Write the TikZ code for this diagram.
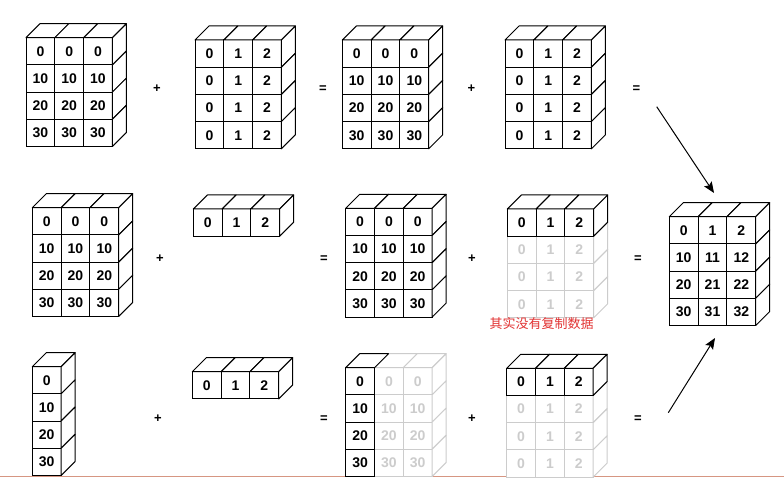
\documentclass[tikz,border=0pt]{standalone}
\usepackage{fontspec}
\setmainfont{Liberation Sans}
\newfontfamily\cjk{Noto Sans CJK SC}
\usetikzlibrary{arrows.meta}
\definecolor{faint}{gray}{0.8}
\definecolor{rulecol}{RGB}{214,150,130}
\definecolor{notecol}{RGB}{226,50,50}
\pgfkeys{/blk/.is family, /blk/.cd,
  name/.store in=\bName, left/.store in=\bX, top/.store in=\bY,
  cols/.store in=\bCols, clr/.store in=\bCol, topface/.store in=\bTop,
  sideface/.store in=\bSide, cw/.store in=\bCw, ch/.store in=\bCh,
  depth/.store in=\bD}
\newcommand\drawblock[2]{%
  \begingroup
  \pgfkeys{/blk/.cd, name=b, cw=28.8, ch=27.2, depth=14, clr=black,
    topface=1, sideface=1, cols=3, #1}%
  \foreach \rowvals [count=\r] in {#2} {%
    \foreach \v [count=\c] in \rowvals {%
      \node[cell, draw=\bCol, text=\bCol, minimum width=\bCw pt,
        minimum height=\bCh pt] (\bName-\r-\c)
        at ({\bX+(\c-0.5)*\bCw},{\bY+(\r-0.5)*\bCh}) {\v};
      \ifnum\r=1 \ifnum\bTop=1
        \draw[face, draw=\bCol] ({\bX+(\c-1)*\bCw},\bY) -- ++(\bD,-\bD)
          -- ++(\bCw,0) -- ++(-\bD,\bD) -- cycle;
      \fi\fi
      \ifnum\c=\bCols \ifnum\bSide=1
        \draw[face, draw=\bCol] ({\bX+\c*\bCw},{\bY+(\r-1)*\bCh}) -- ++(\bD,-\bD)
          -- ++(0,\bCh) -- ++(-\bD,\bD) -- cycle;
      \fi\fi
    }%
  }%
  \endgroup
}
\tikzset{
  cell/.style={rectangle, fill=white, inner sep=0pt, outer sep=0pt,
    line width=1pt, font=\fontsize{14}{16}\selectfont\bfseries},
  face/.style={fill=white, line width=1pt, line join=round},
  op/.style={font=\fontsize{13}{15}\selectfont\bfseries, inner sep=1pt},
  arr/.style={line width=1pt, -{Stealth[length=11pt,width=9pt,inset=2pt]}},
  note/.style={text=notecol, font=\cjk\fontsize{13}{15}\selectfont, inner sep=0pt}
}
\begin{document}
\begin{tikzpicture}[x=1pt,y=-1pt]
\useasboundingbox (0,0) rectangle (784,489);
\fill[white] (0,0) rectangle (784,489);
% bottom rule
\coordinate (rl) at (0,476.5);
\coordinate (rr) at (784,476.5);
\draw[rulecol, line width=1.6pt] (rl) -- (rr);

% ---------- row 1 ----------
\drawblock{name=b1, left=26, top=37.7}{{0,0,0},{10,10,10},{20,20,20},{30,30,30}}
\drawblock{name=b2, left=195, top=40}{{0,1,2},{0,1,2},{0,1,2},{0,1,2}}
\drawblock{name=b3, left=342.3, top=40}{{0,0,0},{10,10,10},{20,20,20},{30,30,30}}
\drawblock{name=b4, left=505, top=40}{{0,1,2},{0,1,2},{0,1,2},{0,1,2}}
\node[op] (p1) at (157,89) {+};
\node[op] (e1) at (323,89) {=};
\node[op] (p2) at (471.5,89) {+};
\node[op] (e2) at (636.5,89) {=};

% ---------- row 2 ----------
\drawblock{name=b5, left=32.3, top=207.7}{{0,0,0},{10,10,10},{20,20,20},{30,30,30}}
\drawblock{name=b6, left=193.3, top=209}{{0,1,2}}
\drawblock{name=b7, left=345.7, top=208.3}{{0,0,0},{10,10,10},{20,20,20},{30,30,30}}
\drawblock{name=b8f, left=507.3, top=236.2, clr=faint, topface=0}{{0,1,2},{0,1,2},{0,1,2}}
\drawblock{name=b8, left=507.3, top=209}{{0,1,2}}
\node[op] (p3) at (160,258.5) {+};
\node[op] (e3) at (324,259) {=};
\node[op] (p4) at (472,259) {+};
\node[op] (e4) at (638,259) {=};
\node[note] (n1) at (541.5,324) {其实没有复制数据};

% result
\drawblock{name=b9, left=669.3, top=216.7}{{0,1,2},{10,11,12},{20,21,22},{30,31,32}}

% ---------- row 3 ----------
\drawblock{name=b10, left=32.3, top=366.7, cols=1}{{0},{10},{20},{30}}
\drawblock{name=b11, left=192.3, top=371.7}{{0,1,2}}
\drawblock{name=b12f, left=345.7, top=367.7, clr=faint}{{0,0,0},{10,10,10},{20,20,20},{30,30,30}}
\drawblock{name=b12, left=345.7, top=367.7, cols=1, sideface=0}{{0},{10},{20},{30}}
\drawblock{name=b13f, left=506.7, top=395.5, clr=faint, topface=0}{{0,1,2},{0,1,2},{0,1,2}}
\drawblock{name=b13, left=506.7, top=368.3}{{0,1,2}}
\node[op] (p5) at (158,419) {+};
\node[op] (e5) at (324,419) {=};
\node[op] (p6) at (472,419) {+};
\node[op] (e6) at (638,419) {=};

% arrows
\coordinate (a1s) at (656.7,106.7);
\coordinate (a1e) at (714,193);
\coordinate (a2s) at (668.3,412.7);
\coordinate (a2e) at (715,338);
\draw[arr] (a1s) -- (a1e);
\draw[arr] (a2s) -- (a2e);
\end{tikzpicture}
\end{document}
